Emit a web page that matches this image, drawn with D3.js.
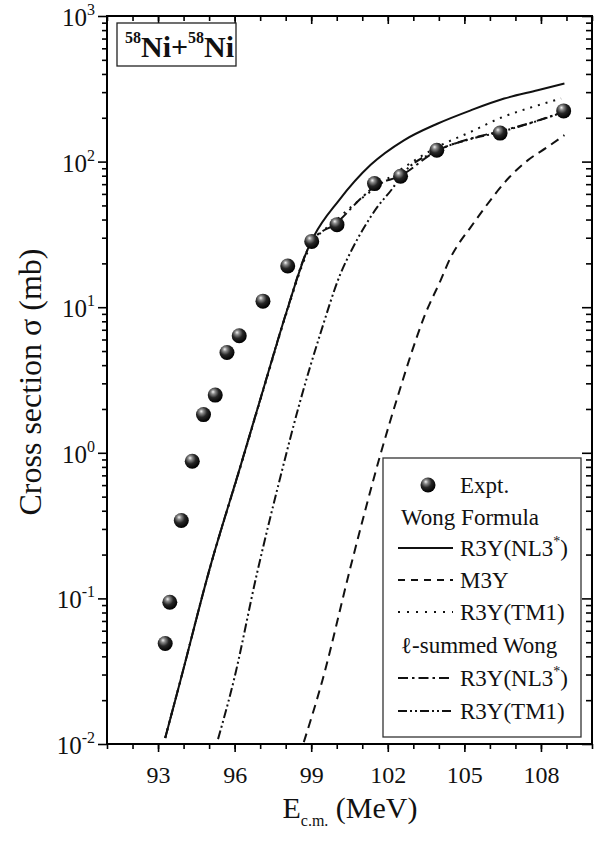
<!DOCTYPE html>
<html>
<head>
<meta charset="utf-8">
<script src="https://cdn.jsdelivr.net/npm/d3@7"></script>
<style>
body { margin: 0; background: #fff; }
svg { display: block; }
svg text { font-family: "Liberation Serif", "Times New Roman", serif; }
</style>
</head>
<body>
<svg width="604" height="843"></svg>
<script>
// experimental points
const exptE = [93.28, 93.46, 93.91, 94.34, 94.78, 95.24, 95.70, 96.18, 97.11, 98.08, 99.02, 100.01, 101.48, 102.50, 103.92, 106.40, 108.89];
const exptSigma = [0.049, 0.094, 0.343, 0.875, 1.83, 2.49, 4.89, 6.37, 11.0, 19.2, 28.3, 36.9, 70.6, 79.3, 119.7, 157, 223];

// Wong formula curves [E, sigma]
const wongNL3 = [[93.28, 0.011], [93.87, 0.027], [95.04, 0.164], [96.22, 0.80], [97.14, 2.8], [98.05, 9.5], [98.84, 24.5],
  [99.1, 30.6], [100.08, 54], [101.33, 95], [102.63, 140], [103.94, 182], [105.25, 225], [106.56, 271], [107.87, 309], [108.92, 344]];
const wongM3Y = [[98.71, 0.0103], [99.43, 0.027], [100.54, 0.164], [101.72, 0.985], [102.5, 2.82], [102.96, 5.05], [103.42, 8.55],
  [104.07, 15.3], [104.47, 22.1], [104.79, 27.5], [105.25, 35.5], [105.77, 47.5], [106.76, 78], [107.48, 102], [108.26, 126], [108.92, 152]];
const wongTM1 = [[93.28, 0.011], [93.87, 0.027], [95.04, 0.163], [96.22, 0.79], [97.14, 2.75], [98.05, 9.3], [98.84, 23.5],
  [100.08, 41], [101.2, 60], [102.5, 88], [103.94, 126], [105.25, 160], [106.43, 200], [107.6, 235], [108.79, 271]];

// l-summed Wong curves
const lsumNL3 = [[93.28, 0.011], [93.87, 0.027], [95.04, 0.164], [96.22, 0.80], [97.14, 2.8], [98.05, 9.5], [98.84, 24.5],
  [99.02, 28.3], [100.0, 38], [101.0, 57], [101.5, 68], [102.5, 80], [103.9, 118], [105.25, 144], [106.3, 160], [107.48, 182], [108.89, 220]];
const lsumTM1 = [[95.35, 0.0108], [95.96, 0.027], [96.87, 0.147], [97.79, 0.68], [98.58, 2.3], [99.36, 6.6], [100.15, 17],
  [100.6, 25], [101.1, 36], [101.6, 49], [102.2, 66], [102.5, 79], [103.9, 118], [105.25, 143], [106.3, 158], [107.6, 184], [108.89, 219]];

const xTicks = [93, 96, 99, 102, 105, 108];
const yExps = [-2, -1, 0, 1, 2, 3];

const svg = d3.select("svg");
const x = d3.scaleLinear().domain([91, 110]).range([107, 592]);
const y = d3.scaleLog().domain([0.01, 1000]).range([744, 16]);

const defs = svg.append("defs");
const grad = defs.append("radialGradient").attr("id", "ball")
  .attr("cx", "40%").attr("cy", "35%").attr("r", "65%").attr("fx", "35%").attr("fy", "28%");
grad.append("stop").attr("offset", "0%").attr("stop-color", "#f4f4f4");
grad.append("stop").attr("offset", "22%").attr("stop-color", "#8a8a8a");
grad.append("stop").attr("offset", "55%").attr("stop-color", "#262626");
grad.append("stop").attr("offset", "100%").attr("stop-color", "#000");
defs.append("clipPath").attr("id", "plot").append("rect")
  .attr("x", 107).attr("y", 16).attr("width", 485).attr("height", 728);

// ticks
const minorX = d3.range(91, 111);
const majorY = yExps.map(e => Math.pow(10, e));
const minorY = [];
for (let e = -2; e < 3; e++) for (let m = 2; m < 10; m++) minorY.push(m * Math.pow(10, e));

function drawAxis(axis, transform) {
  const g = svg.append("g").attr("transform", transform).call(axis);
  g.select(".domain").remove();
  g.selectAll(".tick line").attr("stroke", "#000").attr("stroke-width", 1.6);
  return g;
}

drawAxis(d3.axisBottom(x).tickValues(minorX).tickSize(5).tickFormat(""), "translate(0,744)");
const xb = drawAxis(d3.axisBottom(x).tickValues(xTicks).tickSize(8).tickPadding(14), "translate(0,744)");
xb.attr("font-family", null).attr("font-size", null);
xb.selectAll("text").attr("font-size", 24).attr("fill", "#111");
drawAxis(d3.axisTop(x).tickValues(minorX).tickSize(-5).tickFormat(""), "translate(0,16)");
drawAxis(d3.axisTop(x).tickValues(xTicks).tickSize(-8).tickFormat(""), "translate(0,16)");

drawAxis(d3.axisLeft(y).tickValues(minorY).tickSize(5).tickFormat(""), "translate(107,0)");
drawAxis(d3.axisLeft(y).tickValues(majorY).tickSize(9).tickFormat(""), "translate(107,0)");
drawAxis(d3.axisRight(y).tickValues(minorY).tickSize(-6).tickFormat(""), "translate(592,0)");
drawAxis(d3.axisRight(y).tickValues(majorY).tickSize(-10).tickFormat(""), "translate(592,0)");

// y labels 10^n
yExps.forEach(e => {
  const t = svg.append("text").attr("x", 95).attr("y", y(Math.pow(10, e)) + 10)
    .attr("text-anchor", "end").attr("font-size", 25).attr("fill", "#111");
  t.append("tspan").text("10");
  t.append("tspan").attr("dy", -11).attr("font-size", 16).text(e);
});

// frame
svg.append("rect").attr("x", 107).attr("y", 16).attr("width", 485).attr("height", 728)
  .attr("fill", "none").attr("stroke", "#000").attr("stroke-width", 2);

// axis titles
const xt = svg.append("text").attr("x", 350).attr("y", 818).attr("text-anchor", "middle")
  .attr("font-size", 30).attr("fill", "#111");
xt.append("tspan").text("E");
xt.append("tspan").attr("dy", 8).attr("font-size", 16).text("c.m.");
xt.append("tspan").attr("dy", -8).text(" (MeV)");

svg.append("text").attr("transform", "translate(30,382) rotate(-90)")
  .attr("text-anchor", "middle").attr("dy", "0.35em")
  .attr("font-size", 32).attr("fill", "#111").text("Cross section σ (mb)");

// curves
const line = d3.line().x(d => x(d[0])).y(d => y(d[1])).curve(d3.curveMonotoneX);
const curves = [
  { data: wongNL3, dash: null },
  { data: wongM3Y, dash: "9,6" },
  { data: wongTM1, dash: "2,6" },
  { data: lsumNL3, dash: "10,4,2.5,4" },
  { data: lsumTM1, dash: "9,3,2,3,2,3" }
];
const plot = svg.append("g").attr("clip-path", "url(#plot)");
curves.forEach(c => {
  plot.append("path").attr("d", line(c.data)).attr("fill", "none")
    .attr("stroke", "#111").attr("stroke-width", 2)
    .attr("stroke-dasharray", c.dash);
});

plot.selectAll("circle.expt").data(exptE).enter().append("circle")
  .attr("class", "expt")
  .attr("cx", d => x(d)).attr("cy", (d, i) => y(exptSigma[i]))
  .attr("r", 7.5).attr("fill", "url(#ball)");

// title box
svg.append("rect").attr("x", 117).attr("y", 23).attr("width", 119).attr("height", 43)
  .attr("fill", "#fff").attr("stroke", "#222").attr("stroke-width", 1.3);
const tt = svg.append("text").attr("x", 125).attr("y", 43).attr("font-weight", "bold")
  .attr("font-size", 16).attr("fill", "#111");
tt.append("tspan").text("58");
tt.append("tspan").attr("dy", 14).attr("font-size", 30).text("Ni+");
tt.append("tspan").attr("dy", -14).text("58");
tt.append("tspan").attr("dy", 14).attr("font-size", 30).text("Ni");

// legend
svg.append("rect").attr("x", 383).attr("y", 458).attr("width", 198).attr("height", 279)
  .attr("fill", "#fff").attr("stroke", "#333").attr("stroke-width", 1.3);
const lg = svg.append("g").attr("font-size", 23).attr("fill", "#111");
lg.append("circle").attr("cx", 428).attr("cy", 485).attr("r", 7.5).attr("fill", "url(#ball)");
const legendRows = [
  { y: 485, text: "Expt." },
  { y: 517, head: "Wong Formula" },
  { y: 548, text: "R3Y(NL3", star: true, dash: null },
  { y: 580, text: "M3Y", dash: "7,6" },
  { y: 612, text: "R3Y(TM1)", dash: "2,7" },
  { y: 645, head: "ℓ-summed Wong" },
  { y: 678, text: "R3Y(NL3", star: true, dash: "10,4,2.5,4" },
  { y: 711, text: "R3Y(TM1)", dash: "9,3,2,3,2,3" }
];
legendRows.forEach(r => {
  if (r.head) {
    lg.append("text").attr("x", 401).attr("y", r.y + 8).text(r.head);
    return;
  }
  if (r.dash !== undefined) {
    lg.append("line").attr("x1", 398).attr("x2", 453).attr("y1", r.y).attr("y2", r.y)
      .attr("stroke", "#111").attr("stroke-width", 2).attr("stroke-dasharray", r.dash);
  }
  const t = lg.append("text").attr("x", 460).attr("y", r.y + 8);
  t.append("tspan").text(r.text);
  if (r.star) {
    t.append("tspan").attr("dy", -10).attr("font-size", 14).text("*");
    t.append("tspan").attr("dy", 10).text(")");
  }
});
</script>
</body>
</html>
